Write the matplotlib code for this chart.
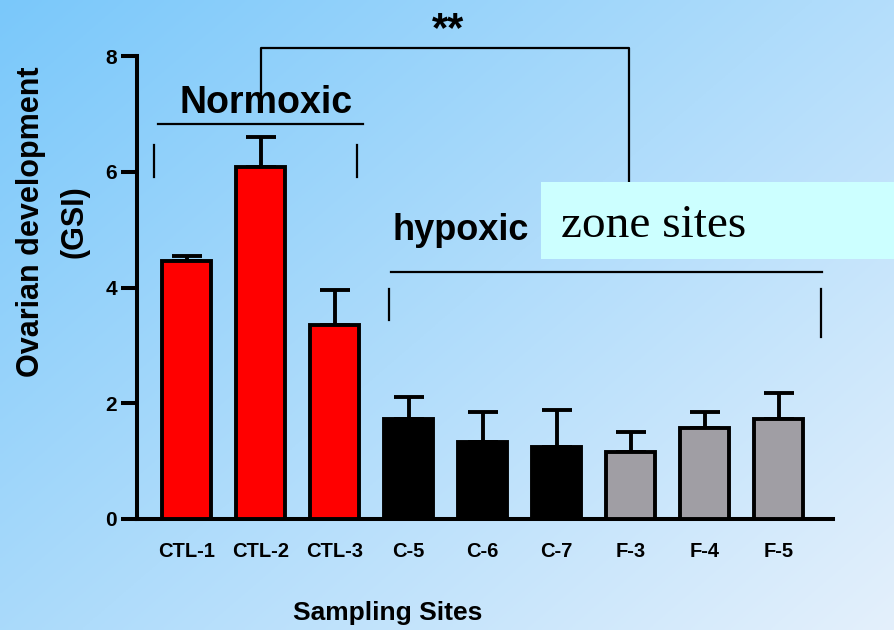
import numpy as np
import matplotlib.pyplot as plt
from matplotlib.patches import Rectangle

# данные
sites = ['CTL-1', 'CTL-2', 'CTL-3', 'C-5', 'C-6', 'C-7', 'F-3', 'F-4', 'F-5']
gsi = [4.46, 6.09, 3.35, 1.73, 1.33, 1.24, 1.15, 1.575, 1.725]
gsi_err = [0.08, 0.51, 0.60, 0.38, 0.52, 0.64, 0.345, 0.265, 0.45]
bar_colors = ['#ff0000'] * 3 + ['#000000'] * 3 + ['#a09ea4'] * 3

SANS = ['Liberation Sans', 'DejaVu Sans']
plt.rcParams['font.family'] = SANS

fig = plt.figure(figsize=(8.95, 6.3), dpi=100)

# градиентный фон
h, w = 200, 300
yy, xx = np.mgrid[0:1:h * 1j, 0:1:w * 1j]
t = np.clip(0.55 * xx + 0.45 * yy, 0, 1)[..., None]
c0 = np.array([122, 200, 250]) / 255.0
c1 = np.array([228, 240, 252]) / 255.0
grad = c0 * (1 - t) + c1 * t
bg = fig.add_axes([0, 0, 1, 1], zorder=0)
bg.imshow(grad, extent=[0, 1, 0, 1], aspect='auto', origin='upper')
bg.axis('off')

ax = fig.add_axes([0.1531, 0.1767, 0.7776, 0.7339], zorder=1)
ax.patch.set_alpha(0)

x = np.arange(len(sites))
ax.errorbar(x, gsi, yerr=[np.zeros(len(gsi)), gsi_err], fmt='none',
            ecolor='black', elinewidth=2.8, capsize=10.8, capthick=2.8, zorder=2)
ax.bar(x, gsi, width=0.66, color=bar_colors, edgecolor='black', linewidth=2.8, zorder=3)

ax.set_xlim(-0.669, 8.736)
ax.set_ylim(0, 8)
ax.set_yticks([0, 2, 4, 6, 8])
ax.set_xticks(x)
ax.set_xticklabels(sites, fontweight='bold', fontsize=14.5)
ax.tick_params(axis='x', length=0, pad=17)
ax.tick_params(axis='y', length=11.5, width=2.9, labelsize=15, pad=3)
for lab in ax.get_yticklabels():
    lab.set_fontweight('bold')
for s in ['top', 'right']:
    ax.spines[s].set_visible(False)
for s in ['left', 'bottom']:
    ax.spines[s].set_linewidth(2.9)

fig.text(53 / 895, 1 - 222 / 630, 'Ovarian development\n(GSI)', fontweight='bold',
         fontsize=22, linespacing=1.6, rotation=90, ha='center', va='center')
fig.text(0.433, 0.016, 'Sampling Sites', fontweight='bold',
         fontsize=19, ha='center', va='baseline')

# скобка значимости
kw = dict(color='black', lw=1.6, clip_on=False, zorder=4)
ax.plot([1.007, 1.007, 5.98, 5.98], [7.36, 8.14, 8.14, 5.82], **kw)
ax.text(3.53, 8.80, '**', fontsize=30, fontweight='bold', ha='center', va='top')

# Normoxic
ax.text(1.07, 7.02, 'Normoxic', fontsize=27, fontweight='bold', ha='center',
        va='baseline', zorder=5)
ax.plot([-0.385, 2.39], [6.83, 6.83], **kw)
ax.plot([-0.44, -0.44], [6.46, 5.91], **kw)
ax.plot([2.30, 2.30], [6.46, 5.91], **kw)

# hypoxic
ax.text(2.79, 4.83, 'hypoxic', fontsize=26, fontweight='bold', ha='left', va='baseline')
ax.plot([2.76, 8.59], [4.26, 4.26], **kw)
ax.plot([2.74, 2.74], [3.97, 3.43], **kw)
ax.plot([8.575, 8.575], [3.97, 3.15], **kw)

fig.patches.append(Rectangle((0.6045, 0.5884), 0.3955, 0.1227, transform=fig.transFigure,
                             facecolor='#ccffff', edgecolor='none', zorder=5))
fig.text(561 / 895, 1 - 237.3 / 630, 'zone sites', fontfamily=['Liberation Serif', 'DejaVu Serif'],
         fontsize=34, ha='left', va='baseline', zorder=6)

fig.savefig('out.png', dpi=100)
